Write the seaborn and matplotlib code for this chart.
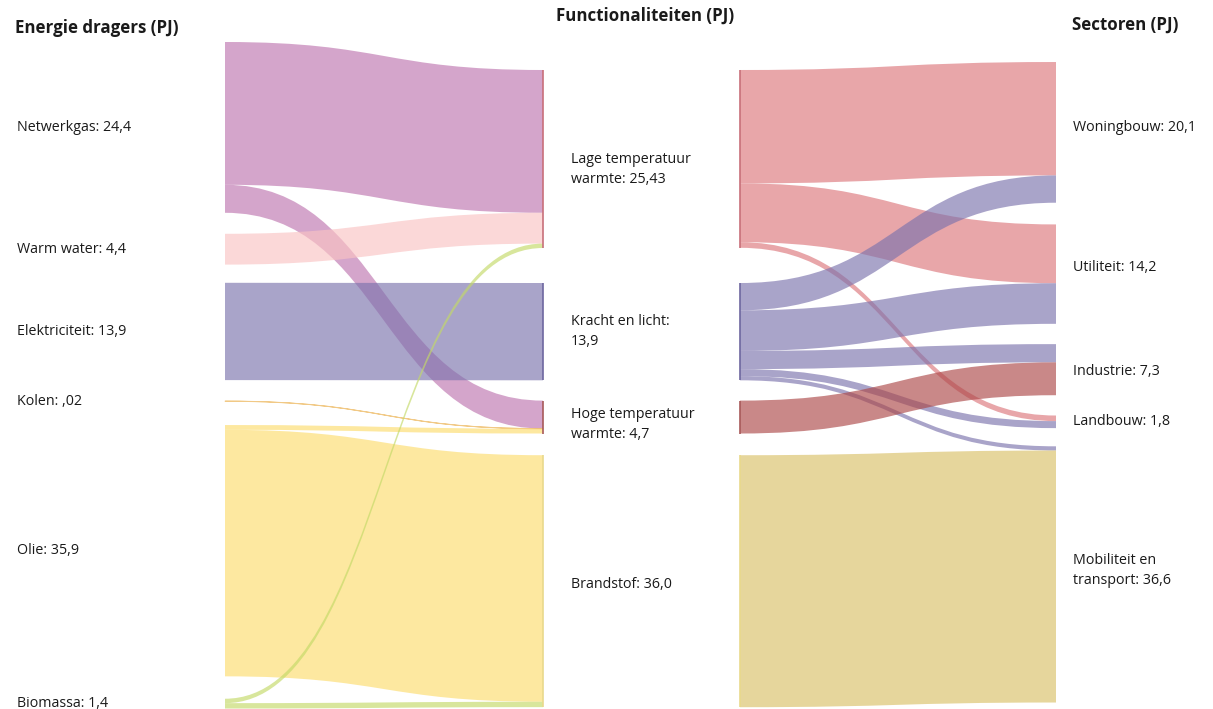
import numpy as np
import matplotlib
matplotlib.use("Agg")
import matplotlib.pyplot as plt
from matplotlib.path import Path
from matplotlib.patches import PathPatch
import matplotlib.colors as mcolors
import seaborn as sns

# ---------------- data ----------------
carriers = ["Netwerkgas", "Warm water", "Elektriciteit", "Kolen", "Olie", "Biomassa"]
carrier_values = [24.4, 4.4, 13.9, 0.02, 35.9, 1.4]
carrier_labels = ["Netwerkgas: 24,4", "Warm water: 4,4", "Elektriciteit: 13,9",
                  "Kolen: ,02", "Olie: 35,9", "Biomassa: 1,4"]

functions = ["Lage temperatuur warmte", "Kracht en licht",
             "Hoge temperatuur warmte", "Brandstof"]
function_values = [25.43, 13.9, 4.7, 36.0]
function_labels = ["Lage temperatuur\nwarmte: 25,43", "Kracht en licht:\n13,9",
                   "Hoge temperatuur\nwarmte: 4,7", "Brandstof: 36,0"]

sectors = ["Woningbouw", "Utiliteit", "Industrie", "Landbouw", "Mobiliteit en transport"]
sector_values = [20.1, 14.2, 7.3, 1.8, 36.6]
sector_labels = ["Woningbouw: 20,1", "Utiliteit: 14,2", "Industrie: 7,3",
                 "Landbouw: 1,8", "Mobiliteit en\ntransport: 36,6"]

flow1_source = ["Netwerkgas", "Netwerkgas", "Warm water", "Elektriciteit", "Kolen",
                "Olie", "Olie", "Biomassa", "Biomassa"]
flow1_target = ["Lage temperatuur warmte", "Hoge temperatuur warmte",
                "Lage temperatuur warmte", "Kracht en licht", "Hoge temperatuur warmte",
                "Hoge temperatuur warmte", "Brandstof", "Lage temperatuur warmte", "Brandstof"]
flow1_value = [20.4, 4.0, 4.4, 13.9, 0.02, 0.68, 35.22, 0.63, 0.77]

flow2_source = ["Lage temperatuur warmte", "Lage temperatuur warmte", "Lage temperatuur warmte",
                "Kracht en licht", "Kracht en licht", "Kracht en licht", "Kracht en licht",
                "Kracht en licht", "Hoge temperatuur warmte", "Brandstof"]
flow2_target = ["Woningbouw", "Utiliteit", "Landbouw",
                "Woningbouw", "Utiliteit", "Industrie", "Landbouw",
                "Mobiliteit en transport", "Industrie", "Mobiliteit en transport"]
flow2_value = [16.2, 8.4, 0.8, 3.9, 5.8, 2.6, 1.0, 0.6, 4.7, 36.0]

titles = ["Energie dragers (PJ)", "Functionaliteiten (PJ)", "Sectoren (PJ)"]

# ---------------- style / layout ----------------
W, H, DPI = 1213, 709, 100
PX_PER_PJ = 7.0
ALPHA = 0.65

seen = {  # colours as they appear on white
    "Netwerkgas": "#D5A5CB", "Warm water": "#FCD8D8", "Elektriciteit": "#AAA4CA",
    "Kolen": "#F2CC8C", "Olie": "#FDE8A0", "Biomassa": "#D8E69C",
    "Lage temperatuur warmte": "#E8A6AA", "Kracht en licht": "#AAA4CA",
    "Hoge temperatuur warmte": "#C98888", "Brandstof": "#E7D79D",
}
node_edge = {
    "Lage temperatuur warmte": "#C8707A", "Kracht en licht": "#6E67A0",
    "Hoge temperatuur warmte": "#A85A5A", "Brandstof": "#E9D98C",
}


def base_colour(hexc, a=ALPHA):
    rgb = np.array(mcolors.to_rgb(hexc))
    return tuple(np.clip((rgb - (1 - a)) / a, 0, 1))


col_top = {"carrier": 6.0, "function": 10.0, "sector": 8.86}
col_gaps = {"carrier": [3.0, 2.6, 3.0, 3.4, 3.2],
            "function": [5.0, 2.9, 3.1],
            "sector": [3.1, 2.9, 2.9, 2.6]}


def layout(names, values, top, gaps):
    pos = {}
    y = top
    for i, (n, v) in enumerate(zip(names, values)):
        pos[n] = [y, y + v]
        y += v
        if i < len(gaps):
            y += gaps[i]
    return pos


pos_c = layout(carriers, carrier_values, col_top["carrier"], col_gaps["carrier"])
pos_f = layout(functions, function_values, col_top["function"], col_gaps["function"])
pos_s = layout(sectors, sector_values, col_top["sector"], col_gaps["sector"])

sns.set_theme(style="white")
plt.rcParams["font.family"] = ["Open Sans", "DejaVu Sans"]

fig = plt.figure(figsize=(W / DPI, H / DPI), dpi=DPI)
ax = fig.add_axes([0, 0, 1, 1])
ax.set_xlim(0, W)
ax.set_ylim(H / PX_PER_PJ, 0)
ax.axis("off")


def draw_flows(src, tgt, val, pos_src, pos_tgt, x0, x1):
    out_off = {k: v[0] for k, v in pos_src.items()}
    in_off = {k: v[0] for k, v in pos_tgt.items()}
    xm = (x0 + x1) / 2
    for s, t, v in zip(src, tgt, val):
        y0t = out_off[s]; y0b = y0t + v; out_off[s] = y0b
        y1t = in_off[t]; y1b = y1t + v; in_off[t] = y1b
        verts = [(x0, y0t), (xm, y0t), (xm, y1t), (x1, y1t),
                 (x1, y1b), (xm, y1b), (xm, y0b), (x0, y0b), (x0, y0t)]
        codes = [Path.MOVETO, Path.CURVE4, Path.CURVE4, Path.CURVE4,
                 Path.LINETO, Path.CURVE4, Path.CURVE4, Path.CURVE4, Path.CLOSEPOLY]
        c = base_colour(seen[s])
        thin = v < 0.1
        patch = PathPatch(Path(verts, codes), facecolor=c, alpha=ALPHA,
                          edgecolor=c if thin else "none", lw=0.7 if thin else 0)
        ax.add_patch(patch)


X_LEFT, X_MID_L, X_MID_R, X_RIGHT = 225, 543, 740, 1056
draw_flows(flow1_source, flow1_target, flow1_value, pos_c, pos_f, X_LEFT, X_MID_L)
draw_flows(flow2_source, flow2_target, flow2_value, pos_f, pos_s, X_MID_R, X_RIGHT)

# thin node bars of the functional column
for n in functions:
    y0, y1 = pos_f[n]
    ax.vlines([X_MID_L, X_MID_R], y0, y1, colors=node_edge[n], lw=1.2)

# labels
txt = dict(fontsize=10.3, color="#1a1a1a", va="center", ha="left")
for n, lab in zip(carriers, carrier_labels):
    y0, y1 = pos_c[n]
    ax.text(17, (y0 + y1) / 2, lab, **txt)
f_dy = [1.5, 0.0, 1.0, 0.5]
for n, lab, dy in zip(functions, function_labels, f_dy):
    y0, y1 = pos_f[n]
    ax.text(571, (y0 + y1) / 2 + dy, lab, linespacing=1.45, **txt)
s_dy = [-0.7, -1.0, 0.3, 0.0, -0.5]
for n, lab, dy in zip(sectors, sector_labels, s_dy):
    y0, y1 = pos_s[n]
    ax.text(1073, (y0 + y1) / 2 + dy, lab, linespacing=1.45, **txt)

ttl = dict(fontsize=12.2, fontweight="bold", color="#1a1a1a", va="center")
ax.text(15, 28 / PX_PER_PJ, titles[0], ha="left", **ttl)
ax.text(556, 16 / PX_PER_PJ, titles[1], ha="left", **ttl)
ax.text(1072, 25 / PX_PER_PJ, titles[2], ha="left", **ttl)

fig.savefig("out.png", dpi=DPI, facecolor="white")
